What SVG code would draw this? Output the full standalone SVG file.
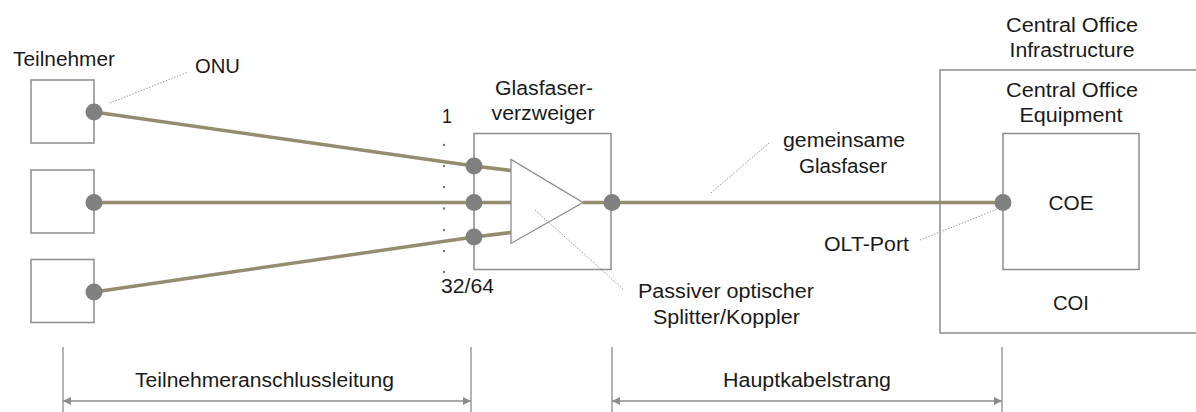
<svg xmlns="http://www.w3.org/2000/svg" width="1196" height="412" viewBox="0 0 1196 412">
<defs>
<style>
text{font-family:"Liberation Sans",Arial,sans-serif;font-size:20px;fill:#1a1a1a}
.box{fill:#fff;stroke:#8c8c8c;stroke-width:1.5}
.fiber{fill:none;stroke:#958c70;stroke-width:3.5}
.dot{fill:#808080}
.lead{fill:none;stroke:#9a9a9a;stroke-width:1;stroke-dasharray:1.5 1.5}
.tick{fill:none;stroke:#8c8c8c;stroke-width:1.3}
.dim{fill:none;stroke:#8c8c8c;stroke-width:1.5;marker-start:url(#ah);marker-end:url(#ah)}
.c{text-anchor:middle}
</style>
<marker id="ah" viewBox="0 0 10 10" refX="10" refY="5" markerWidth="10" markerHeight="8" markerUnits="userSpaceOnUse" orient="auto-start-reverse">
<path d="M0,0 L10,5 L0,10 z" fill="#8c8c8c"/>
</marker>
</defs>

<g id="coi">
<rect class="box" x="940" y="70" width="270" height="263"/>
<text class="c" x="1072" y="32" textLength="132" lengthAdjust="spacingAndGlyphs">Central Office</text>
<text class="c" x="1072" y="57" textLength="125" lengthAdjust="spacingAndGlyphs">Infrastructure</text>
<text class="c" x="1072" y="97" textLength="132" lengthAdjust="spacingAndGlyphs">Central Office</text>
<text class="c" x="1071" y="122" textLength="103" lengthAdjust="spacingAndGlyphs">Equipment</text>
<text class="c" x="1071" y="310" textLength="36" lengthAdjust="spacingAndGlyphs">COI</text>
</g>

<g id="coe">
<rect class="box" x="1003" y="133.5" width="136" height="136"/>
<text class="c" x="1071" y="210" textLength="45" lengthAdjust="spacingAndGlyphs">COE</text>
</g>

<g id="teilnehmer">
<text x="13" y="66" textLength="102" lengthAdjust="spacingAndGlyphs">Teilnehmer</text>
<rect class="box" x="31" y="80" width="63" height="63"/>
<rect class="box" x="31" y="170" width="63" height="63"/>
<rect class="box" x="31" y="259.5" width="63" height="63"/>
</g>

<g id="splitter">
<rect class="box" x="474" y="133.5" width="137" height="136"/>
<text class="c" x="544" y="95" textLength="98" lengthAdjust="spacingAndGlyphs">Glasfaser-</text>
<text class="c" x="543" y="120" textLength="103" lengthAdjust="spacingAndGlyphs">verzweiger</text>
</g>

<g id="connectors">
<path class="fiber" d="M94,112 L474,166 L511,170.5"/>
<path class="fiber" d="M94,202.5 L511,202.5"/>
<path class="fiber" d="M94,292 L474,237 L511,232.5"/>
<path class="fiber" d="M583,202.5 L1003,202.5"/>
<polygon points="511,159.5 511,243.5 583,202.5" fill="#fff" stroke="#8c8c8c" stroke-width="1.3"/>
<path class="lead" d="M110,103 L188,72"/>
<path class="lead" d="M535,210 L623,289"/>
<path class="lead" d="M711,193 L769,143"/>
<path class="lead" d="M920,240 L1000,208"/>
<g class="dot">
<circle cx="94" cy="112" r="8.5"/>
<circle cx="94" cy="202.5" r="8.5"/>
<circle cx="94" cy="292" r="8.5"/>
<circle cx="474" cy="166" r="8.5"/>
<circle cx="474" cy="202.5" r="8.5"/>
<circle cx="474" cy="237" r="8.5"/>
<circle cx="612" cy="202.5" r="8.5"/>
<circle cx="1003" cy="202.5" r="8.5"/>
</g>
<g fill="#777">
<circle cx="444" cy="145" r="1.2"/>
<circle cx="444" cy="166" r="1.2"/>
<circle cx="444" cy="187" r="1.2"/>
<circle cx="444" cy="208.5" r="1.2"/>
<circle cx="444" cy="230" r="1.2"/>
<circle cx="444" cy="251" r="1.2"/>
<circle cx="444" cy="272" r="1.2"/>
</g>
<path class="tick" d="M63,347 V412 M471,347 V412 M612,347 V412 M1002,347 V412"/>
<path class="dim" d="M63,401 H471"/>
<path class="dim" d="M612,401 H1002"/>
</g>

<g id="labels">
<text x="195" y="73" textLength="45" lengthAdjust="spacingAndGlyphs">ONU</text>
<text x="442" y="123" textLength="10" lengthAdjust="spacingAndGlyphs">1</text>
<text x="441" y="293" textLength="53" lengthAdjust="spacingAndGlyphs">32/64</text>
<text class="c" x="844" y="147" textLength="122" lengthAdjust="spacingAndGlyphs">gemeinsame</text>
<text class="c" x="843" y="172.5" textLength="88" lengthAdjust="spacingAndGlyphs">Glasfaser</text>
<text x="824" y="250.5" textLength="85" lengthAdjust="spacingAndGlyphs">OLT-Port</text>
<text class="c" x="726" y="297.5" textLength="176" lengthAdjust="spacingAndGlyphs">Passiver optischer</text>
<text class="c" x="726.5" y="323.5" textLength="147" lengthAdjust="spacingAndGlyphs">Splitter/Koppler</text>
<text class="c" x="264.5" y="387" textLength="259" lengthAdjust="spacingAndGlyphs">Teilnehmeranschlussleitung</text>
<text class="c" x="807" y="387" textLength="168" lengthAdjust="spacingAndGlyphs">Hauptkabelstrang</text>
</g>
</svg>
